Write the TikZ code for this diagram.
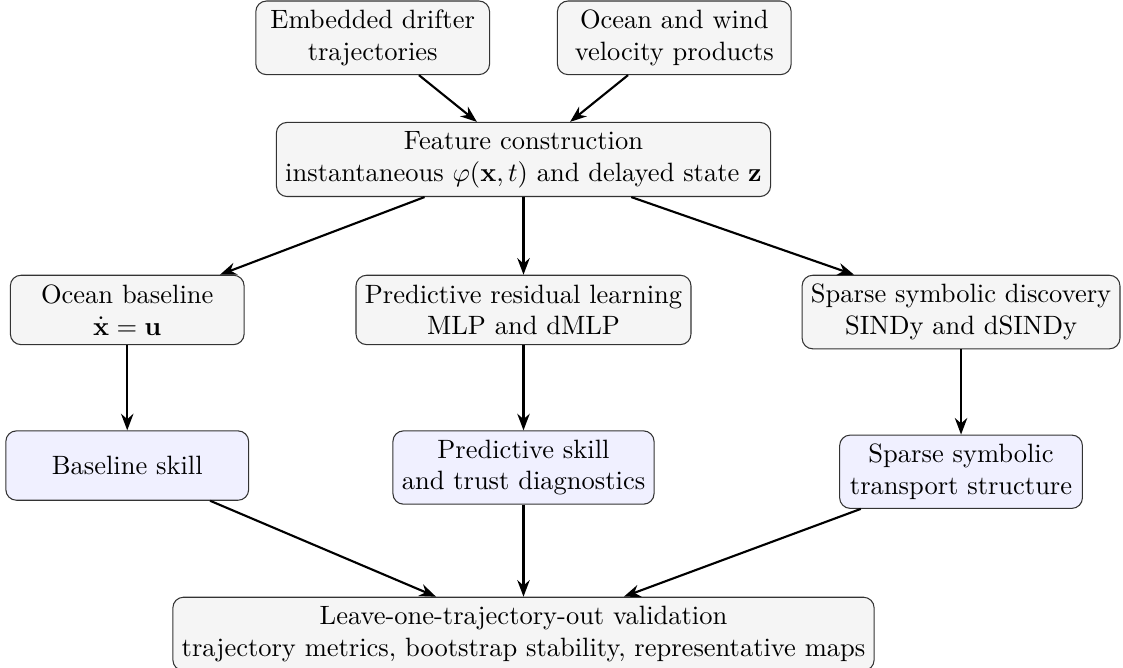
\documentclass[tikz,border=0pt]{standalone}
\usepackage{amsmath}
\usetikzlibrary{positioning, arrows.meta}

\begin{document}
\begin{tikzpicture}[
    node distance=1.13cm,
    stage/.style={
      rectangle, draw=black!80, rounded corners=4pt,
      fill=gray!8, align=center,
      minimum width=3.1cm, minimum height=0.92cm,
    },
    outcome/.style={stage, fill=blue!6, minimum width=3.22cm},
    arrow/.style={-{Stealth[length=2.2mm]}, thick},
]
\useasboundingbox (-6.943,-6.744) rectangle (7.951,2.115);

\node[stage] (feature) {Feature construction\\ instantaneous $\varphi(\mathbf{x},t)$ and delayed state $\mathbf{z}$};
\node[stage, above=0.62cm of feature, xshift=-2cm] (drifter)  {Embedded drifter\\ trajectories};
\node[stage, above=0.62cm of feature, xshift=2cm]  (products) {Ocean and wind\\ velocity products};

\node[stage, below=1.03cm of feature] (residual) {Predictive residual learning\\ MLP and dMLP};
\node[stage, left=1.47cm of residual.north west, anchor=north east]  (baseline) {Ocean baseline\\ $\dot{\mathbf{x}} = \mathbf{u}$};
\node[stage, right=1.46cm of residual.north east, anchor=north west] (sindy)    {Sparse symbolic discovery\\ SINDy and dSINDy};

\node[outcome, below=of baseline] (baseskill) {Baseline skill};
\node[outcome, below=of residual] (predskill) {Predictive skill\\ and trust diagnostics};
\node[outcome, below=of sindy]    (structure) {Sparse symbolic\\ transport structure};

\node[stage, below=1.22cm of predskill] (validation) {Leave-one-trajectory-out validation\\ trajectory metrics, bootstrap stability, representative maps};

\foreach \a/\b in {drifter/feature, products/feature, feature/baseline, feature/residual,
                   feature/sindy, baseline/baseskill, residual/predskill, sindy/structure,
                   baseskill/validation, predskill/validation, structure/validation}
    \draw[arrow] (\a) -- (\b);
\end{tikzpicture}
\end{document}
